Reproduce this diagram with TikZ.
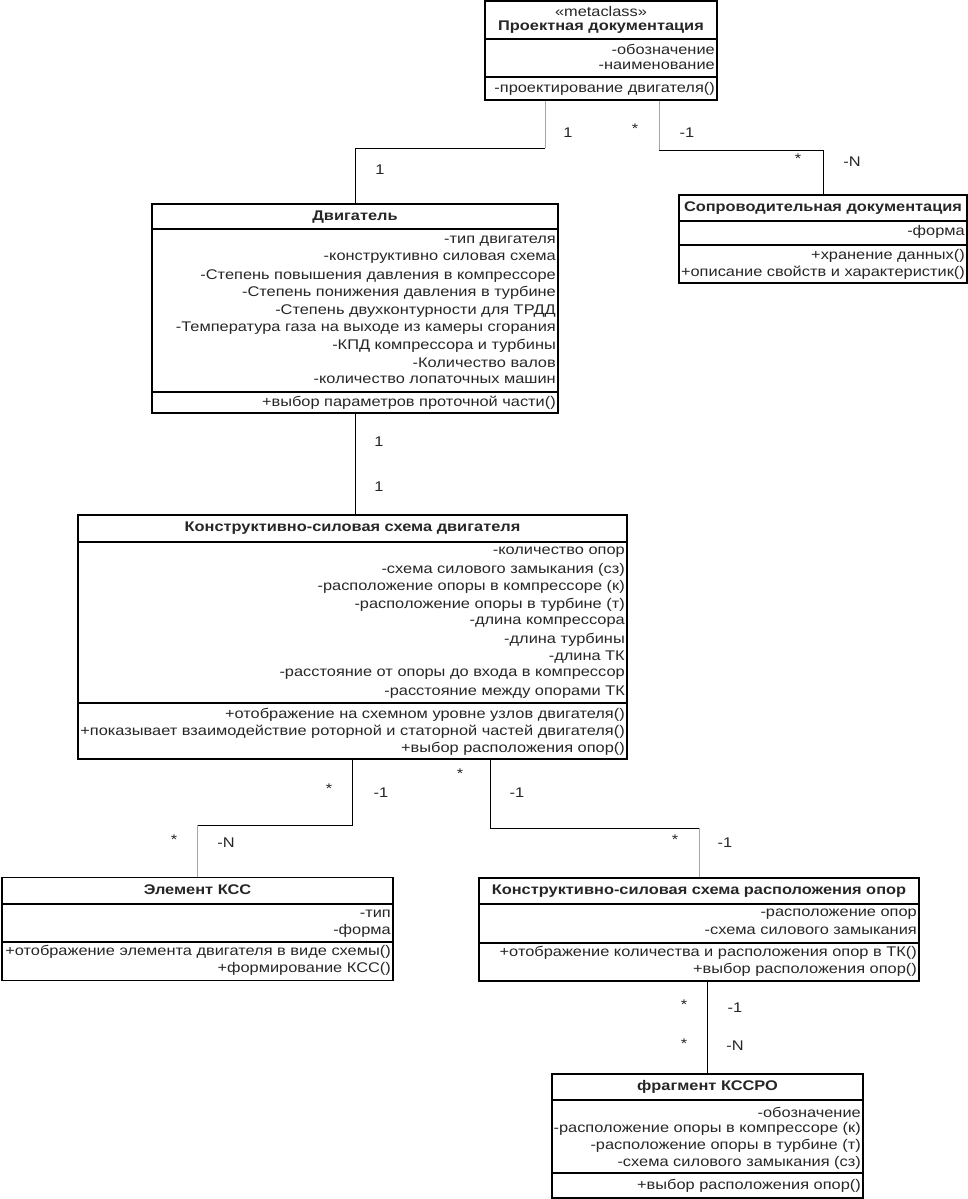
\documentclass[tikz,border=0pt]{standalone}
\usepackage{fontspec}
\setmainfont{Liberation Sans}[FakeStretch=1.17]
\begin{document}
\begin{tikzpicture}[x=1pt, y=-1pt,
    cls/.style={draw, line width=1.3pt, inner sep=0pt},
    txt/.style={font=\fontsize{14}{16}\selectfont, inner sep=1pt, text=black!85},
    attr/.style={txt, anchor=east},
    ttl/.style={txt, font=\fontsize{14}{16}\selectfont\bfseries},
    sep/.style={line width=1.3pt},
    assoc/.style={line width=1pt},
    faint/.style={line width=.8pt, black!35},
    mult/.style={txt}]
\useasboundingbox (0,0) rectangle (968,1199);

% Проектная документация
\node[cls, minimum width=232, minimum height=99] (proj) at (601,50.5) {};
\draw[sep] (485,39) -- (717,39);
\draw[sep] (485,77) -- (717,77);
\node[txt] (proj-st) at (601,11) {«metaclass»};
\node[ttl] (proj-t) at (601,27) {Проектная документация};
\node[attr] (proj-a1) at (716,49) {-обозначение};
\node[attr] (proj-a2) at (716,66) {-наименование};
\node[attr] (proj-m1) at (716,89) {-проектирование двигателя()};

% Сопроводительная документация
\node[cls, minimum width=288, minimum height=88] (sopr) at (823,239) {};
\draw[sep] (679,221) -- (967,221);
\draw[sep] (679,245) -- (967,245);
\node[ttl] (sopr-t) at (823,208) {Сопроводительная документация};
\node[attr] (sopr-a1) at (966,232) {-форма};
\node[attr] (sopr-m1) at (966,256) {+хранение данных()};
\node[attr] (sopr-m2) at (966,273) {+описание свойств и характеристик()};

% Двигатель
\node[cls, minimum width=406, minimum height=209] (eng) at (355,308.5) {};
\draw[sep] (152,229) -- (558,229);
\draw[sep] (152,392) -- (558,392);
\node[ttl] (eng-t) at (355,217) {Двигатель};
\foreach \t [count=\i] in {-тип двигателя, -конструктивно силовая схема,
    -Степень повышения давления в компрессоре, -Степень понижения давления в турбине,
    -Степень двухконтурности для ТРДД, -Температура газа на выходе из камеры сгорания,
    -КПД компрессора и турбины, -Количество валов, -количество лопаточных машин}
{
    \node[attr] (eng-a\i) at (557,{241+17.4*(\i-1)}) {\t};
}
\node[attr] (eng-m1) at (557,403) {+выбор параметров проточной части()};

% Конструктивно-силовая схема двигателя
\node[cls, minimum width=549, minimum height=244] (kss) at (352.5,637) {};
\draw[sep] (78,542) -- (627,542);
\draw[sep] (78,703) -- (627,703);
\node[ttl] (kss-t) at (352.5,528) {Конструктивно-силовая схема двигателя};
\foreach \t [count=\i] in {-количество опор, -схема силового замыкания (сз),
    -расположение опоры в компрессоре (к), -расположение опоры в турбине (т),
    -длина компрессора, -длина турбины, -длина ТК,
    -расстояние от опоры до входа в компрессор, -расстояние между опорами ТК}
{
    \node[attr] (kss-a\i) at (626,{552+17.5*(\i-1)}) {\t};
}
\foreach \t [count=\i] in {+отображение на схемном уровне узлов двигателя(),
    +показывает взаимодействие роторной и статорной частей двигателя(),
    +выбор расположения опор()}
{
    \node[attr] (kss-m\i) at (626,{715+17*(\i-1)}) {\t};
}

% Элемент КСС
\node[cls, minimum width=391, minimum height=103] (elem) at (197.5,929) {};
\draw[sep] (2,904) -- (393,904);
\draw[sep] (2,942) -- (393,942);
\node[ttl] (elem-t) at (197.5,890) {Элемент КСС};
\node[attr] (elem-a1) at (392,914) {-тип};
\node[attr] (elem-a2) at (392,931) {-форма};
\node[attr] (elem-m1) at (392,952) {+отображение элемента двигателя в виде схемы()};
\node[attr] (elem-m2) at (392,969) {+формирование КСС()};

% Конструктивно-силовая схема расположения опор
\node[cls, minimum width=440, minimum height=103] (ksro) at (699,929.5) {};
\draw[sep] (479,904) -- (919,904);
\draw[sep] (479,943) -- (919,943);
\node[ttl] (ksro-t) at (699,891) {Конструктивно-силовая схема расположения опор};
\node[attr] (ksro-a1) at (918,914) {-расположение опор};
\node[attr] (ksro-a2) at (918,931) {-схема силового замыкания};
\node[attr] (ksro-m1) at (918,953) {+отображение количества и расположения опор в ТК()};
\node[attr] (ksro-m2) at (918,970) {+выбор расположения опор()};

% фрагмент КССРО
\node[cls, minimum width=311, minimum height=124] (frag) at (707.5,1136) {};
\draw[sep] (552,1100) -- (863,1100);
\draw[sep] (552,1173) -- (863,1173);
\node[ttl] (frag-t) at (707.5,1087) {фрагмент КССРО};
\foreach \t [count=\i] in {-обозначение, -расположение опоры в компрессоре (к),
    -расположение опоры в турбине (т), -схема силового замыкания (сз)}
{
    \node[attr] (frag-a\i) at (862,{1112+17*(\i-1)}) {\t};
}
\node[attr] (frag-m1) at (862,1186) {+выбор расположения опор()};

% связи
\coordinate (c1) at (545,148);
\coordinate (c2) at (659,150);
\coordinate (c3) at (197.5,825);
\coordinate (c4) at (699,828);
\draw[faint] ([xshift=-56pt]proj.south) -- (c1);
\draw[assoc] (c1) -| (eng.north);
\draw[faint] ([xshift=58pt]proj.south) -- (c2);
\draw[assoc] (c2) -| (sopr.north);
\draw[assoc] (eng.south) -- (eng.south |- kss.north);
\draw[assoc] (kss.south) |- (c3);
\draw[faint] (c3) -- (elem.north);
\draw[assoc] ([xshift=137.5pt]kss.south) |- (c4);
\draw[faint] (c4) -- (ksro.north);
\draw[assoc] (frag.north) -- (frag.north |- ksro.south);

% кратности
\node[mult] (m1) at (568,133) {1};
\node[mult] (m2) at (380,170) {1};
\node[mult] (m3) at (635,129) {*};
\node[mult] (m4) at (687,133) {-1};
\node[mult] (m5) at (798,159) {*};
\node[mult] (m6) at (852,162) {-N};
\node[mult] (m7) at (379,442) {1};
\node[mult] (m8) at (379,487) {1};
\node[mult] (m9) at (329,789) {*};
\node[mult] (m10) at (381,793) {-1};
\node[mult] (m11) at (174,840) {*};
\node[mult] (m12) at (226,843) {-N};
\node[mult] (m13) at (460,774) {*};
\node[mult] (m14) at (517,793) {-1};
\node[mult] (m15) at (675,840) {*};
\node[mult] (m16) at (725,843) {-1};
\node[mult] (m17) at (684,1005) {*};
\node[mult] (m18) at (735,1008) {-1};
\node[mult] (m19) at (684,1044) {*};
\node[mult] (m20) at (735,1046) {-N};
\end{tikzpicture}
\end{document}
